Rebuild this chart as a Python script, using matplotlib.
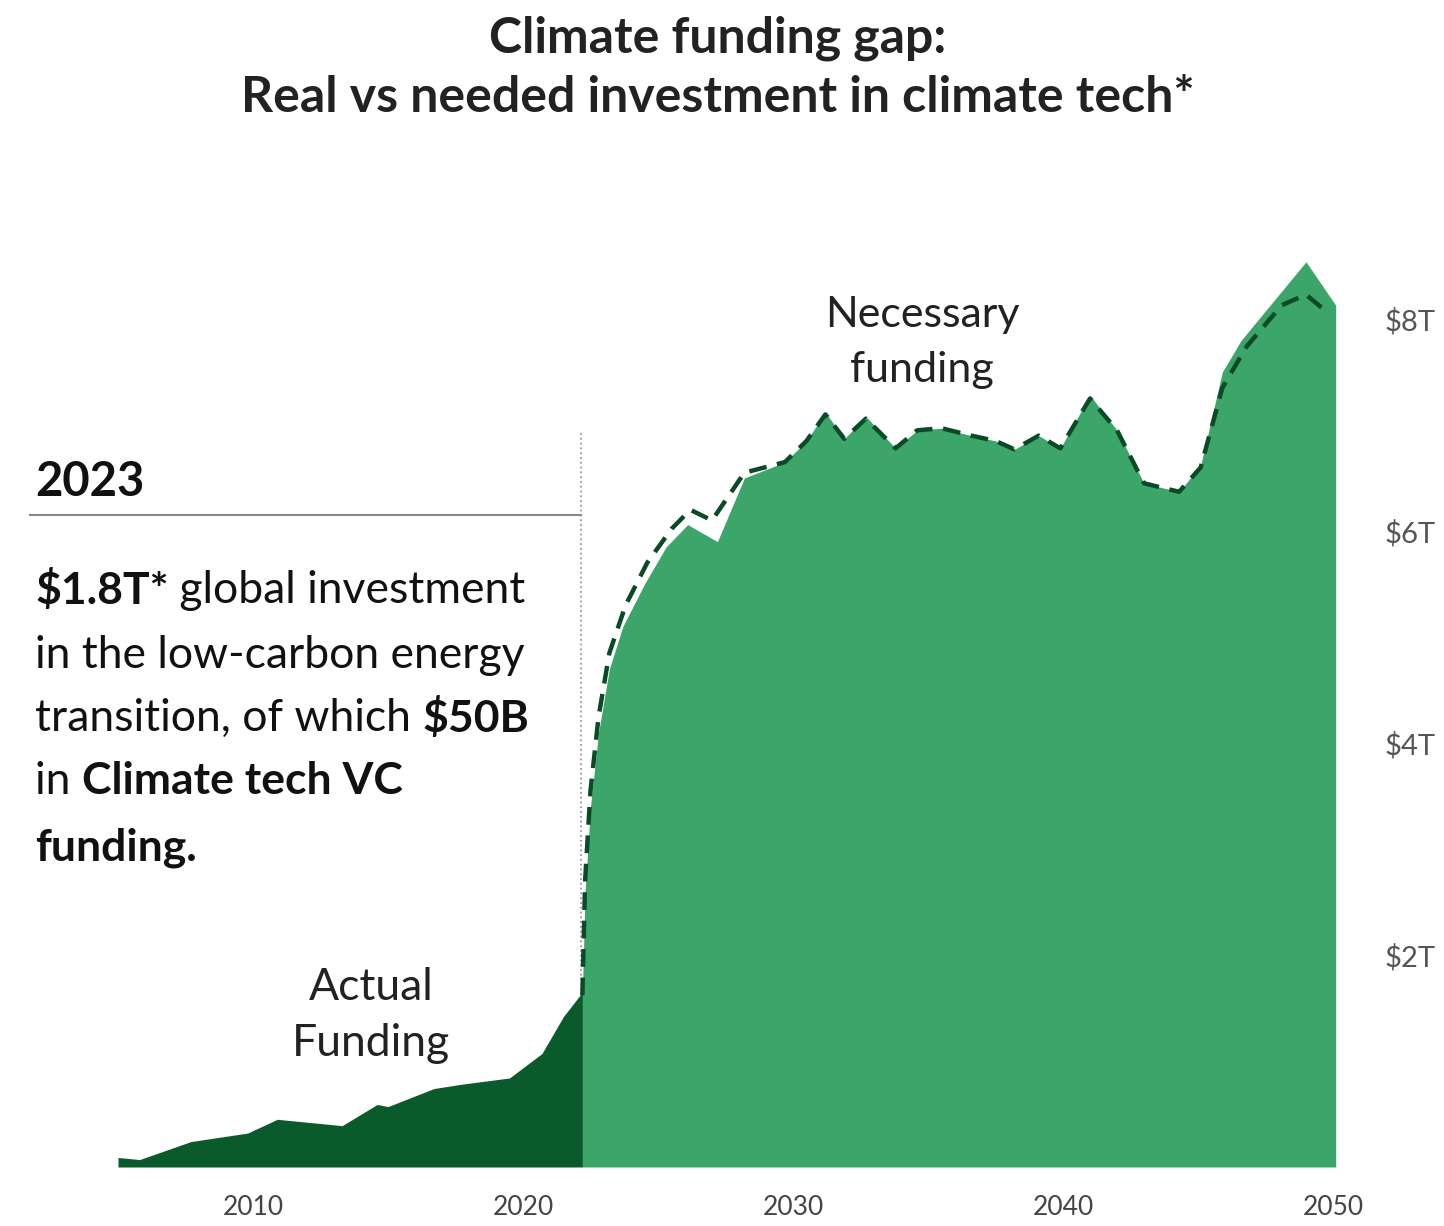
import matplotlib.pyplot as plt
from matplotlib.lines import Line2D

# Actual funding (trillion $)
actual_years = [2005.0, 2005.8, 2007.7, 2009.8, 2010.9, 2013.3, 2014.6, 2015.0,
                2016.7, 2017.7, 2019.5, 2020.7, 2021.5, 2022.2]
actual_values = [0.09, 0.07, 0.24, 0.32, 0.45, 0.39, 0.59, 0.57,
                 0.74, 0.78, 0.84, 1.07, 1.42, 1.65]

# Necessary funding area (trillion $)
need_years = [2022.2, 2022.3, 2022.5, 2022.8, 2023.2, 2023.7, 2024.5, 2025.3, 2026.1,
              2027.2, 2028.2, 2029.7, 2030.5, 2031.2, 2031.9, 2032.7, 2033.8, 2034.6,
              2035.5, 2036.6, 2037.5, 2038.2, 2039.1, 2039.9, 2041.0, 2042.0, 2043.0,
              2044.3, 2045.1, 2045.9, 2046.6, 2049.0, 2050.1]
need_values = [1.65, 2.6, 3.4, 4.1, 4.7, 5.1, 5.5, 5.85, 6.06,
               5.9, 6.5, 6.65, 6.85, 7.12, 6.87, 7.08, 6.78, 6.95,
               6.97, 6.9, 6.85, 6.77, 6.9, 6.78, 7.28, 6.95, 6.45,
               6.37, 6.62, 7.5, 7.8, 8.54, 8.13]

# Dashed path over the area (trillion $)
dash_years = [2022.2, 2022.3, 2022.5, 2022.8, 2023.2, 2023.8, 2024.6, 2025.5, 2026.2,
              2027.0, 2028.2, 2029.7, 2030.5, 2031.2, 2031.9, 2032.7, 2033.8, 2034.6,
              2035.5, 2036.6, 2037.5, 2038.2, 2039.1, 2039.9, 2041.0, 2042.0, 2043.0,
              2044.3, 2045.1, 2045.9, 2046.8, 2048.1, 2049.0, 2049.8]
dash_values = [1.62, 2.7, 3.55, 4.25, 4.85, 5.3, 5.7, 6.02, 6.2,
               6.1, 6.55, 6.65, 6.85, 7.1, 6.87, 7.06, 6.78, 6.95,
               6.97, 6.9, 6.85, 6.77, 6.9, 6.78, 7.25, 6.95, 6.45,
               6.37, 6.6, 7.35, 7.74, 8.13, 8.23, 8.06]

xticks = [2010, 2020, 2030, 2040, 2050]
yticks = [2, 4, 6, 8]
ytick_labels = [r"\$2T", r"\$4T", r"\$6T", r"\$8T"]

dark_green = "#0b5a2c"
light_green = "#3ca66a"
dash_color = "#0a4a25"

plt.rcParams['font.family'] = ['Lato', 'DejaVu Sans']

W, H = 1444, 1226
fig = plt.figure(figsize=(W / 100, H / 100), dpi=100)
fig.patch.set_facecolor('white')

# axes placed so that 2010 -> 253 px, 27 px/year, 0 -> 1167 px, 106 px/T
x0, x1 = 2004.5, 2051.0
y0, y1 = 0.0, 9.2
left_px = 253 + (x0 - 2010) * 27
right_px = 253 + (x1 - 2010) * 27
ax = fig.add_axes([left_px / W, (H - 1167) / H, (right_px - left_px) / W, (y1 - y0) * 106 / H])
ax.set_xlim(x0, x1)
ax.set_ylim(y0, y1)

ax.plot([2022.15, 2022.15], [0, 6.95], color='#999999', lw=1.3, ls=':', zorder=1)
ax.fill_between(need_years, need_values, 0, color=light_green, lw=0, zorder=2)
ax.fill_between(actual_years, actual_values, 0, color=dark_green, lw=0, zorder=3)
ax.plot(dash_years, dash_values, color=dash_color, lw=3.2, ls=(0, (4, 2.4)), zorder=4)

for s in ax.spines.values():
    s.set_visible(False)
ax.set_xticks(xticks)
ax.set_xticklabels([str(y) for y in xticks])
ax.yaxis.tick_right()
ax.set_yticks(yticks)
ax.set_yticklabels(ytick_labels)
ax.tick_params(axis='x', length=0, pad=20, labelsize=19, labelcolor='#444444')
ax.tick_params(axis='y', length=0, pad=18, labelsize=21, labelcolor='#555555')


def fx(px):
    return px / W


def fy(py):
    return 1 - py / H


# title
fig.text(fx(718), fy(38), "Climate funding gap:", ha='center', va='center',
         fontsize=36, fontweight='bold', color='#222222')
fig.text(fx(718), fy(97), "Real vs needed investment in climate tech*", ha='center', va='center',
         fontsize=36, fontweight='bold', color='#222222')

# area labels
fig.text(fx(922), fy(315), "Necessary", ha='center', va='center', fontsize=31, color='#222222')
fig.text(fx(922), fy(370), "funding", ha='center', va='center', fontsize=31, color='#222222')
fig.text(fx(371), fy(988), "Actual", ha='center', va='center', fontsize=32, color='#222222')
fig.text(fx(371), fy(1043), "Funding", ha='center', va='center', fontsize=32, color='#222222')

# 2023 callout
fig.text(fx(35), fy(482), "2023", ha='left', va='center', fontsize=34,
         fontweight='bold', color='#111111')
fig.add_artist(Line2D([fx(30), fx(581)], [fy(515), fy(515)], color='#888888', lw=1.5))

renderer = fig.canvas.get_renderer()


def text_width(s, weight, size):
    # bracket with bars so leading/trailing spaces count
    t1 = fig.text(0, 0, "|" + s + "|", fontsize=size, fontweight=weight)
    t2 = fig.text(0, 0, "||", fontsize=size, fontweight=weight)
    w = t1.get_window_extent(renderer).width - t2.get_window_extent(renderer).width
    t1.remove()
    t2.remove()
    return w


body_lines = [
    (590, [(r"\$1.8T*", 'bold'), (" global investment", 'normal')]),
    (655, [("in the low-carbon energy", 'normal')]),
    (718, [("transition, of which ", 'normal'), (r"\$50B", 'bold')]),
    (781, [("in ", 'normal'), ("Climate tech VC", 'bold')]),
    (848, [("funding.", 'bold')]),
]
body_size = 32
for ypx, pieces in body_lines:
    xpx = 35
    for s, weight in pieces:
        fig.text(fx(xpx), fy(ypx), s, ha='left', va='center', fontsize=body_size,
                 fontweight=weight, color='#111111')
        xpx += text_width(s, weight, body_size)

fig.savefig('out.png', dpi=100, facecolor='white')
